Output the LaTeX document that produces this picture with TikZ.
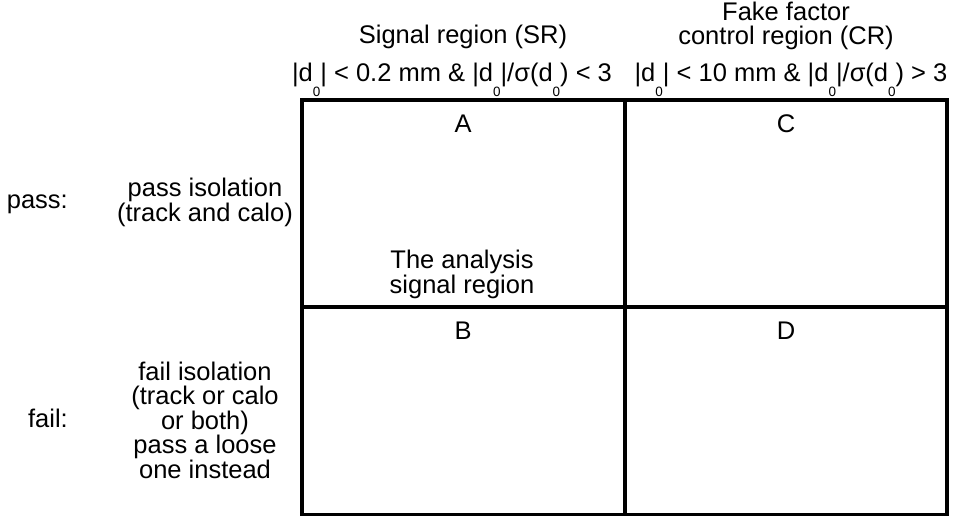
\documentclass[tikz,border=0pt]{standalone}
\usepackage{fontspec}
\setmainfont{Liberation Sans}
\newcommand\dsub{\raisebox{-15.5pt}{\fontsize{13.5}{13.5}\selectfont 0}}
\begin{document}
\begin{tikzpicture}[x=1pt,y=-1pt,
  txt/.style={inner sep=0pt, font=\fontsize{25.5}{24.5}\selectfont, align=center},
  gridline/.style={line width=3.5pt, line cap=rect}]
\useasboundingbox (0,0) rectangle (958,515);
% grid corners
\coordinate (tl) at (302,100);
\coordinate (tm) at (625,100);
\coordinate (tr) at (947,100);
\coordinate (ml) at (302,307);
\coordinate (mr) at (947,307);
\coordinate (bl) at (302,514.5);
\coordinate (bm) at (625,514.5);
\coordinate (br) at (947,514.5);
\draw[gridline] (tl) -- (tr) -- (br) -- (bl) -- cycle;
\draw[gridline] (tm) -- (bm);
\draw[gridline] (ml) -- (mr);
% column headers
\node[txt, anchor=base] (sr) at (463,43) {Signal region (SR)};
\node[txt, anchor=base, font=\fontsize{25.5}{23.5}\selectfont] (cr) at (786,44) {Fake factor\\control region (CR)};
\node[txt, anchor=base] (c1) at (452,81) {|d\dsub| < 0.2 mm \& |d\dsub|/σ(d\dsub) < 3};
\node[txt, anchor=base] (c2) at (791,81) {|d\dsub| < 10 mm \& |d\dsub|/σ(d\dsub) > 3};
% cell labels
\node[txt, anchor=base] (A) at (463,132) {A};
\node[txt, anchor=base] (C) at (786,132) {C};
\node[txt, anchor=base] (B) at (463,339) {B};
\node[txt, anchor=base] (D) at (786,339) {D};
\node[txt, anchor=base] (asr) at (462,293) {The analysis\\signal region};
% row labels
\node[txt, anchor=base east] (pass) at (68,208) {pass:};
\node[txt, anchor=base] (passiso) at (205,221) {pass isolation\\(track and calo)};
\node[txt, anchor=base east] (fail) at (68,427) {fail:};
\node[txt, anchor=base] (failiso) at (205,478) {fail isolation\\(track or calo\\or both)\\pass a loose\\one instead};
\end{tikzpicture}
\end{document}
